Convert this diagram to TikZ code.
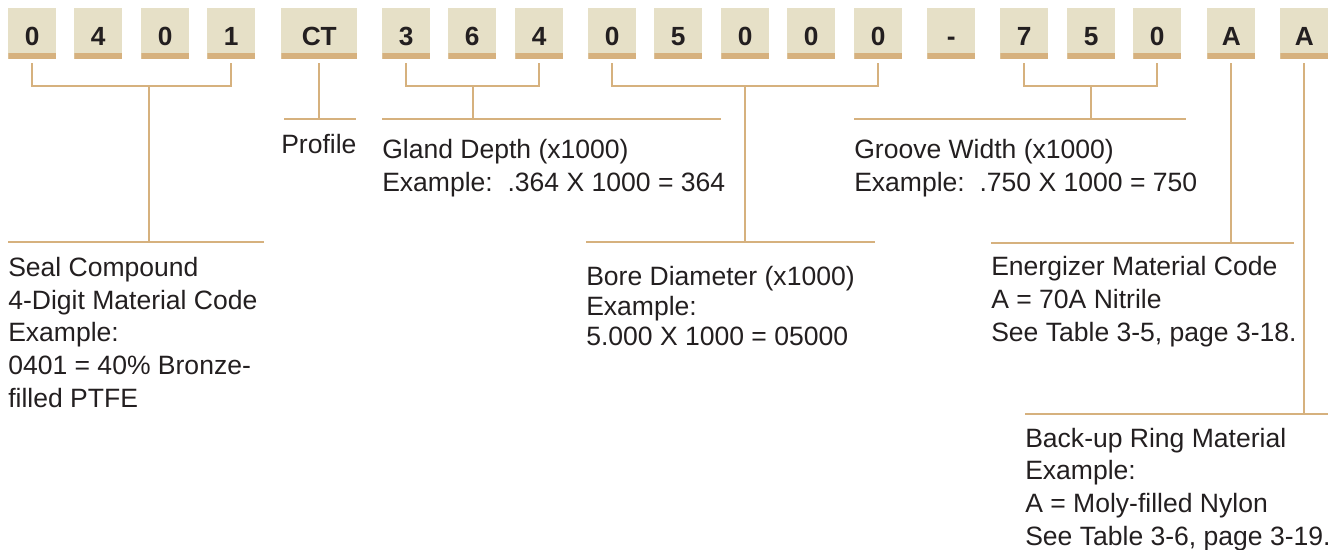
\documentclass[tikz,border=0pt]{standalone}
\usepackage{fontspec}
\setmainfont{Liberation Sans}
\definecolor{boxfill}{RGB}{230,224,199}
\definecolor{tan}{RGB}{214,177,126}
\definecolor{ink}{RGB}{35,31,32}
\begin{document}
\begin{tikzpicture}[x=0.75pt,y=-0.75pt,
  digit/.style={fill=boxfill, inner sep=0pt, minimum width=36pt, minimum height=37.9pt,
    text height=17.6pt, text depth=0pt, text=ink,
    font=\fontsize{19.7}{24}\selectfont\bfseries,
    path picture={\fill[tan] (path picture bounding box.south west) rectangle ([yshift=4.1pt]path picture bounding box.south east);}},
  conn/.style={draw=tan, line width=1.5pt},
  desc/.style={anchor=base west, inner sep=0pt, align=left, text=ink,
    font=\fontsize{19.9}{24.4}\selectfont}]
\useasboundingbox (0,0) rectangle (1340,550);
% code boxes
\node[digit, anchor=north west] (d1) at (8,8) {0};
\node[digit, anchor=north west] (d2) at (74,8) {4};
\node[digit, anchor=north west] (d3) at (141,8) {0};
\node[digit, anchor=north west] (d4) at (207,8) {1};
\node[digit, anchor=north west, minimum width=57pt] (d5) at (281,8) {CT};
\node[digit, anchor=north west] (d6) at (382,8) {3};
\node[digit, anchor=north west] (d7) at (448,8) {6};
\node[digit, anchor=north west] (d8) at (515,8) {4};
\node[digit, anchor=north west] (d9) at (588,8) {0};
\node[digit, anchor=north west] (d10) at (654,8) {5};
\node[digit, anchor=north west] (d11) at (721,8) {0};
\node[digit, anchor=north west] (d12) at (787,8) {0};
\node[digit, anchor=north west] (d13) at (854,8) {0};
\node[digit, anchor=north west] (d14) at (927,8) {-};
\node[digit, anchor=north west] (d15) at (1000,8) {7};
\node[digit, anchor=north west] (d16) at (1067,8) {5};
\node[digit, anchor=north west] (d17) at (1133,8) {0};
\node[digit, anchor=north west] (d18) at (1207,8) {A};
\node[digit, anchor=north west] (d19) at (1280,8) {A};
% descriptions (base = baseline of last line)
\node[desc] (tseal) at (8,407) {Seal Compound\\4-Digit Material Code\\Example:\\0401 = 40\% Bronze-\\filled PTFE};
\node[desc] (tprof) at (281,153) {Profile};
\node[desc] (tgland) at (382,191) {Gland Depth (x1000)\\Example:\ \ .364 X 1000 = 364};
\node[desc, font=\fontsize{19.9}{22.5}\selectfont] (tbore) at (586,345) {Bore Diameter (x1000)\\Example:\\5.000 X 1000 = 05000};
\node[desc] (tgroove) at (854,191) {Groove Width (x1000)\\Example:\ \ .750 X 1000 = 750};
\node[desc] (tener) at (991,341) {Energizer Material Code\\A = 70A Nitrile\\See Table 3-5, page 3-18.};
\node[desc] (tback) at (1025,545) {Back-up Ring Material\\Example:\\A = Moly-filled Nylon\\See Table 3-6, page 3-19.};
% junction coordinates
\coordinate (jseal) at (149,86);
\coordinate (sealL) at (8,242);   \coordinate (sealR) at (264,242);
\coordinate (profL) at (284,119); \coordinate (profR) at (356,119);
\coordinate (jgland) at (473,86);
\coordinate (glandL) at (382,119); \coordinate (glandR) at (721,119);
\coordinate (jbore) at (745,86);
\coordinate (boreL) at (586,242); \coordinate (boreR) at (875,242);
\coordinate (jgroove) at (1091,86);
\coordinate (grooveL) at (854,119); \coordinate (grooveR) at (1186,119);
\coordinate (enerL) at (991,243); \coordinate (enerR) at (1294,243);
\coordinate (backL) at (1025,414); \coordinate (backR) at (1328,414);
% connectors
\draw[conn] ([yshift=-3pt]d1.south) |- (jseal) -| ([yshift=-3pt]d4.south);
\draw[conn] (jseal) -- (jseal |- sealL);
\draw[conn] (sealL) -- (sealR);
\draw[conn] ([yshift=-3pt]d5.south) -- (d5.south |- profL);
\draw[conn] (profL) -- (profR);
\draw[conn] ([yshift=-3pt]d6.south) |- (jgland) -| ([yshift=-3pt]d8.south);
\draw[conn] (jgland) -- (jgland |- glandL);
\draw[conn] (glandL) -- (glandR);
\draw[conn] ([yshift=-3pt]d9.south) |- (jbore) -| ([yshift=-3pt]d13.south);
\draw[conn] (jbore) -- (jbore |- boreL);
\draw[conn] (boreL) -- (boreR);
\draw[conn] ([yshift=-3pt]d15.south) |- (jgroove) -| ([yshift=-3pt]d17.south);
\draw[conn] (jgroove) -- (jgroove |- grooveL);
\draw[conn] (grooveL) -- (grooveR);
\draw[conn] ([yshift=-3pt]d18.south) -- (d18.south |- enerL);
\draw[conn] (enerL) -- (enerR);
\draw[conn] ([yshift=-3pt]d19.south) -- (d19.south |- backL);
\draw[conn] (backL) -- (backR);
\end{tikzpicture}
\end{document}
